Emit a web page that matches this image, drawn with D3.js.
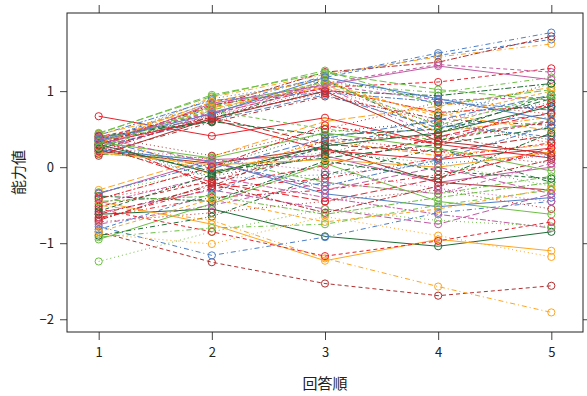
<!DOCTYPE html>
<html>
<head>
<meta charset="utf-8">
<script src="https://cdn.jsdelivr.net/npm/d3@7"></script>
<style>
  html, body { margin: 0; padding: 0; background: #fff; }
  svg { display: block; }
  text { font-family: "Noto Sans CJK JP", "DejaVu Sans", sans-serif; fill: #222; }
</style>
</head>
<body>
<svg id="chart" width="587" height="396"></svg>
<script>
// Response occasions on the x axis
const occasions = [1, 2, 3, 4, 5];
const yTickValues = [-2, -1, 0, 1];
const xTitle = "回答順";
const yTitle = "能力値";

// Estimated ability for each respondent across the five occasions
const scores = [
  [0.67, 0.41, 0.65, 0.30, 0.12],
  [0.35, 0.85, 1.18, 1.47, 1.68],
  [-0.33, -0.05, 0.20, 0.05, -0.25],
  [0.28, 0.92, 1.22, 1.45, 1.62],
  [0.26, -0.05, 0.12, 0.30, 0.52],
  [0.32, 0.80, 1.25, 1.38, 1.72],
  [-0.35, 0.10, 0.15, -0.20, 0.00],
  [0.40, 0.70, 1.05, 1.12, 1.30],
  [0.34, -0.15, -0.10, 0.05, 0.15],
  [0.25, 0.75, 1.10, 0.98, 1.18],
  [-0.30, 0.14, 0.60, 0.80, 1.05],
  [0.38, 0.65, 1.00, 0.94, 1.10],
  [0.21, 0.05, 0.25, -0.20, -0.30],
  [0.22, 0.72, 1.08, 0.88, 0.92],
  [-0.40, -0.20, 0.40, 0.20, 0.05],
  [0.30, 0.78, 1.20, 1.50, 1.77],
  [0.45, 0.93, 1.27, 0.82, 1.02],
  [0.44, -0.10, 0.35, 0.15, 0.30],
  [-0.62, -0.55, -0.91, -1.04, -0.85],
  [-0.85, -1.25, -1.53, -1.69, -1.56],
  [0.30, 0.68, 1.02, 0.62, 0.85],
  [-0.66, -0.40, -0.30, -0.10, 0.20],
  [0.27, 0.62, 0.95, 0.52, 0.70],
  [0.17, 0.12, -0.20, -0.35, -0.12],
  [-0.45, -0.75, -1.23, -0.95, -1.10],
  [0.35, 0.60, 1.15, 0.45, 0.95],
  [-0.72, -0.60, -0.45, -0.30, -0.55],
  [0.20, 0.70, 1.05, 0.40, 0.60],
  [0.38, -0.25, 0.02, 0.40, 0.72],
  [0.42, 0.88, 0.98, 0.86, 0.75],
  [-0.95, -0.48, 0.05, -0.45, -0.62],
  [0.33, 0.76, 1.12, 0.66, 1.00],
  [0.29, 0.00, 0.46, 0.60, 0.36],
  [0.18, 0.59, 0.93, 0.63, 0.55],
  [-0.60, -0.30, -0.55, -0.75, -0.35],
  [0.29, 0.82, 1.03, 0.72, 0.80],
  [0.23, 0.08, -0.35, -0.52, -0.40],
  [0.36, 0.74, 0.50, 0.36, 0.62],
  [-0.88, -1.01, -0.65, -0.90, -1.18],
  [-0.90, -0.65, -0.10, 0.25, -0.20],
  [0.24, 0.66, 0.30, 0.20, 0.42],
  [-0.48, -0.12, -0.40, -0.62, -0.80],
  [0.31, 0.63, 0.22, 0.10, 0.25],
  [-0.82, -0.35, 0.30, 0.55, 0.40],
  [-1.24, -0.85, -0.55, -0.70, -0.78],
  [-0.50, -0.70, -1.20, -1.57, -1.91],
  [0.40, 0.60, 0.42, 0.50, 0.90],
  [-0.70, -0.22, -0.60, -0.25, 0.10],
  [0.26, 0.84, 1.08, 1.33, 1.15],
  [-0.55, -0.85, -1.17, -0.97, -0.72],
  [0.34, 0.90, 1.14, 0.89, 0.78],
  [-0.92, -0.80, -0.75, -0.50, -0.30],
  [0.43, 0.78, 1.06, 0.70, 0.48],
  [-0.38, -0.45, 0.08, -0.15, 0.45],
  [0.15, 0.64, 1.00, 0.34, 0.18],
  [0.37, 0.72, 1.10, 1.35, 1.25],
  [0.21, 0.68, 0.97, 0.58, 0.32],
  [-0.78, -1.16, -0.92, -0.60, -0.45],
  [0.44, 0.95, 1.24, 1.02, 0.88],
  [0.31, 0.86, 1.16, 0.46, 0.66],
  [0.30, -0.08, 0.28, 0.45, 0.80],
  [-0.52, -0.18, 0.18, 0.35, 0.60],
  [0.27, 0.10, -0.05, -0.28, -0.45],
  [-0.68, -0.28, -0.15, 0.12, 0.32],
  [0.36, -0.02, 0.38, 0.62, 0.95],
  [-0.45, -0.38, -0.62, -0.40, -0.20],
  [0.19, 0.03, 0.10, 0.00, 0.20],
  [-0.58, -0.10, 0.25, -0.05, -0.15],
  [0.41, 0.15, 0.50, 0.85, 0.70],
  [-0.75, -0.50, -0.20, -0.35, 0.05],
  [0.28, -0.20, -0.45, -0.15, 0.25],
  [-0.34, 0.05, -0.25, 0.10, 0.55],
  [0.33, 0.12, 0.45, 0.25, -0.05],
  [-0.85, -0.42, -0.72, -0.55, -0.28],
  [0.24, -0.12, 0.15, 0.68, 1.10],
  [-0.62, -0.25, 0.35, 0.42, 0.15],
  [0.39, 0.06, -0.30, 0.00, -0.35],
  [-0.42, 0.00, 0.55, 0.30, 0.85],
  [0.35, 0.70, 1.18, 0.90, 0.62],
  [0.26, 0.80, 1.12, 0.55, 0.95]
];

// Superposed series styles, recycled independently
const palette = ["#E8212B", "#4D7FC6", "#6CBF43", "#FFA51F", "#1E6B34", "#B0302F", "#C35AA4"];
const dashes = [null, "4,3", "1,3", "1,3,5,3", "7,3", "2,2,6,2"];

const svg = d3.select("#chart");
const plot = { left: 67, right: 583, top: 13, bottom: 332 };

// Lattice-style padding of 7% around the data range
const xExt = d3.extent(occasions);
const xPad = (xExt[1] - xExt[0]) * 0.07;
const allVals = scores.flat();
const yExt = d3.extent(allVals);
const yPad = (yExt[1] - yExt[0]) * 0.07;

const x = d3.scaleLinear().domain([xExt[0] - xPad, xExt[1] + xPad]).range([plot.left, plot.right]);
const y = d3.scaleLinear().domain([yExt[0] - yPad, yExt[1] + yPad]).range([plot.bottom, plot.top]);

const g = svg.append("g");

// Axes on all four sides, labels on left and bottom only
function styleAxis(sel) {
  sel.select(".domain").remove();
  sel.selectAll(".tick line").attr("stroke", "#444").attr("stroke-width", 1);
  sel.selectAll(".tick text").attr("font-size", 13).attr("fill", "#222");
}
g.append("g").attr("transform", `translate(0,${plot.bottom})`)
  .call(d3.axisBottom(x).tickValues(occasions).tickFormat(d3.format("d")).tickSize(8).tickPadding(8))
  .call(styleAxis);
g.append("g").attr("transform", `translate(0,${plot.top})`)
  .call(d3.axisTop(x).tickValues(occasions).tickFormat("").tickSize(8))
  .call(styleAxis);
g.append("g").attr("transform", `translate(${plot.left},0)`)
  .call(d3.axisLeft(y).tickValues(yTickValues).tickFormat(d => d < 0 ? "\u2212" + Math.abs(d) : d).tickSize(7).tickPadding(6))
  .call(styleAxis);
g.append("g").attr("transform", `translate(${plot.right},0)`)
  .call(d3.axisRight(y).tickValues(yTickValues).tickFormat("").tickSize(7))
  .call(styleAxis);

// Series lines and open-circle markers
const line = d3.line().x((d, i) => x(occasions[i])).y(d => y(d));
const series = g.append("g")
  .selectAll("g.series")
  .data(scores)
  .join("g")
  .attr("class", "series");

series.append("path")
  .attr("d", d => line(d))
  .attr("fill", "none")
  .attr("stroke", (d, i) => palette[i % palette.length])
  .attr("stroke-width", 1)
  .attr("stroke-dasharray", (d, i) => dashes[i % dashes.length]);

series.each(function (d, i) {
  d3.select(this).selectAll("circle")
    .data(d)
    .join("circle")
    .attr("cx", (v, j) => x(occasions[j]))
    .attr("cy", v => y(v))
    .attr("r", 3.6)
    .attr("fill", "none")
    .attr("stroke", palette[i % palette.length])
    .attr("stroke-width", 1);
});

// Panel frame
g.append("rect")
  .attr("x", plot.left).attr("y", plot.top)
  .attr("width", plot.right - plot.left).attr("height", plot.bottom - plot.top)
  .attr("fill", "none").attr("stroke", "#222").attr("stroke-width", 1);

// Axis titles
svg.append("text")
  .attr("x", (plot.left + plot.right) / 2).attr("y", 389)
  .attr("text-anchor", "middle").attr("font-size", 15)
  .text(xTitle);
svg.append("text")
  .attr("transform", `translate(24,${(plot.top + plot.bottom) / 2}) rotate(-90)`)
  .attr("text-anchor", "middle").attr("font-size", 15)
  .text(yTitle);
</script>
</body>
</html>
